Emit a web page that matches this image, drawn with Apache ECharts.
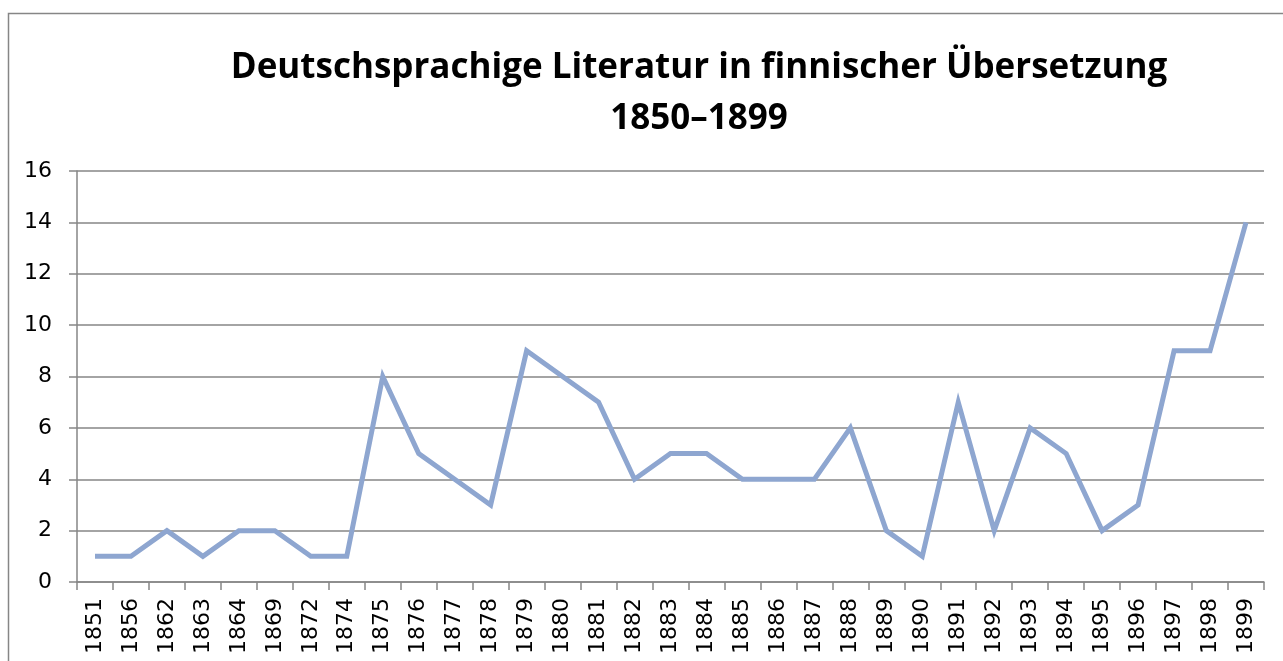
<!DOCTYPE html>
<html>
<head>
<meta charset="utf-8">
<script src="https://cdn.jsdelivr.net/npm/echarts@6/dist/echarts.min.js"></script>
<style>
  html, body { margin: 0; padding: 0; background: #fff; }
  #chart { width: 1283px; height: 661px; }
</style>
</head>
<body>
<div id="chart"></div>
<script>
// Jahre (Kategorien) und Anzahl der Übersetzungen
var years = ['1851', '1856', '1862', '1863', '1864', '1869', '1872', '1874', '1875', '1876', '1877',
  '1878', '1879', '1880', '1881', '1882', '1883', '1884', '1885', '1886', '1887', '1888',
  '1889', '1890', '1891', '1892', '1893', '1894', '1895', '1896', '1897', '1898', '1899']
var counts = [1, 1, 2, 1, 2, 2, 1, 1, 8, 5, 4, 3, 9, 8, 7, 4, 5, 5, 4, 4, 4, 6,
  2, 1, 7, 2, 6, 5, 2, 3, 9, 9, 14]
var yTicks = [0, 2, 4, 6, 8, 10, 12, 14, 16]

var chart = echarts.init(document.getElementById('chart'))
chart.setOption({
  animation: false,
  graphic: [{
    type: 'rect',
    shape: { x: 8.5, y: 13.5, width: 1290, height: 670 },
    style: { fill: 'none', stroke: '#868686', lineWidth: 1.5 },
    silent: true
  }],
  title: {
    text: 'Deutschsprachige Literatur in finnischer Übersetzung\n1850–1899',
    left: 694,
    textAlign: 'center',
    top: 38,
    textStyle: {
      fontFamily: 'Open Sans',
      fontWeight: 'bold',
      fontSize: 35,
      lineHeight: 51,
      color: '#000'
    }
  },
  grid: { left: 77, right: 19, top: 171, bottom: 79, containLabel: false },
  xAxis: {
    type: 'category',
    data: years,
    boundaryGap: true,
    axisLine: { lineStyle: { color: '#868686', width: 1.5 } },
    axisTick: { show: true, length: 8, lineStyle: { color: '#868686', width: 1.5 } },
    axisLabel: {
      interval: 0,
      rotate: 90,
      margin: 16,
      color: '#000',
      fontFamily: 'DejaVu Sans',
      fontSize: 22
    }
  },
  yAxis: {
    type: 'value',
    min: yTicks[0],
    max: yTicks[yTicks.length - 1],
    interval: 2,
    axisLine: { show: true, lineStyle: { color: '#868686', width: 1.5 } },
    axisTick: { show: true, length: 8, lineStyle: { color: '#868686', width: 1.5 } },
    splitLine: { lineStyle: { color: '#868686', width: 1.5 } },
    axisLabel: {
      margin: 25,
      color: '#000',
      fontFamily: 'DejaVu Sans',
      fontSize: 22
    }
  },
  series: [{
    type: 'line',
    data: counts,
    symbol: 'none',
    lineStyle: { color: '#8EA6D0', width: 5, join: 'miter' }
  }]
})
</script>
</body>
</html>
